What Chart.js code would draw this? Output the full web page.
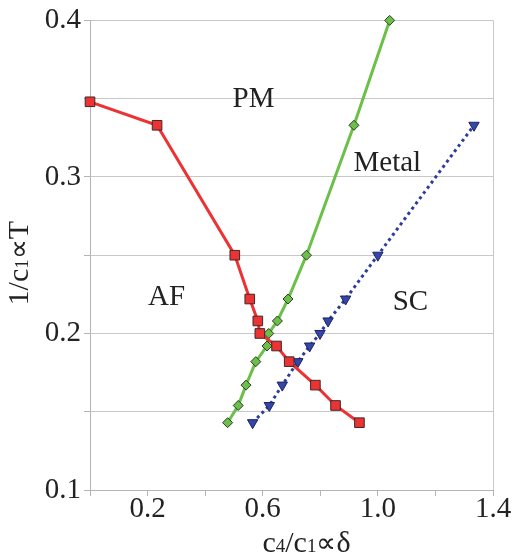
<!DOCTYPE html>
<html>
<head>
<meta charset="utf-8">
<script src="https://cdn.jsdelivr.net/npm/chart.js@4.4.1/dist/chart.umd.min.js"></script>
<style>
  html, body { margin: 0; padding: 0; background: #fff; }
  #wrap { width: 516px; height: 558px; position: relative; }
</style>
</head>
<body>
<div id="wrap"><canvas id="myChart"></canvas></div>
<script>
// AF boundary (red squares)
var afX = [0, 0.233, 0.503, 0.555, 0.583, 0.59, 0.648, 0.692, 0.783, 0.853, 0.936];
var afY = [0.348, 0.333, 0.25, 0.222, 0.208, 0.2, 0.192, 0.182, 0.167, 0.154, 0.143];
// metal line (green diamonds)
var metalX = [0.478, 0.515, 0.542, 0.576, 0.615, 0.621, 0.651, 0.688, 0.752, 0.917, 1.041];
var metalY = [0.143, 0.154, 0.167, 0.182, 0.192, 0.2, 0.208, 0.222, 0.25, 0.333, 0.4];
// SC line (blue triangles, dotted)
var scX = [0.565, 0.623, 0.668, 0.722, 0.763, 0.799, 0.827, 0.888, 1.0, 1.334];
var scY = [0.143, 0.154, 0.167, 0.182, 0.192, 0.2, 0.208, 0.222, 0.25, 0.333];

// region names and where they sit (data coords)
var regionNames = ["PM", "Metal", "AF", "SC"];
var regionX = [0.568, 1.033, 0.266, 1.113];
var regionY = [0.3496, 0.3087, 0.2232, 0.22];

var xTickLabels = ["0.2", "0.6", "1.0", "1.4"];

function pts(xs, ys) {
    return xs.map(function (x, i) { return { x: x, y: ys[i] }; });
}

var serif = "'Liberation Serif', 'Times New Roman', serif";
var textColor = "#222";

// draws text made of pieces [text, size]
function drawPieces(ctx, pieces, cx, baseline) {
    var total = 0;
    pieces.forEach(function (p) {
        ctx.font = p[1] + "px " + serif;
        total += ctx.measureText(p[0]).width;
    });
    var x = cx - total / 2;
    pieces.forEach(function (p) {
        ctx.font = p[1] + "px " + serif;
        ctx.fillText(p[0], x, baseline);
        x += ctx.measureText(p[0]).width;
    });
}

var labelsPlugin = {
    id: "labels",
    afterDatasetsDraw: function (chart) {
        var ctx = chart.ctx;
        var xs = chart.scales.x, ys = chart.scales.y;
        var area = chart.chartArea;
        ctx.save();
        ctx.fillStyle = textColor;
        ctx.textAlign = "center";
        ctx.textBaseline = "middle";
        ctx.font = "29px " + serif;
        regionNames.forEach(function (name, i) {
            ctx.fillText(name, xs.getPixelForValue(regionX[i]), ys.getPixelForValue(regionY[i]));
        });

        // axis titles
        ctx.textAlign = "left";
        ctx.textBaseline = "alphabetic";
        drawPieces(ctx, [["c", 30], ["4", 19], ["/", 30], ["c", 30], ["1", 19], ["\u221D", 28], ["\u03B4", 30]],
            (area.left + area.right) / 2 + 15, 552);

        ctx.translate(28, (area.top + area.bottom) / 2 + 8);
        ctx.rotate(-Math.PI / 2);
        drawPieces(ctx, [["1/c", 30], ["1", 19], ["\u221D", 28], ["T", 30]], 0, 0);
        ctx.restore();
    }
};

var ctx = document.getElementById("myChart");

new Chart(ctx, {
    type: "scatter",
    data: {
        datasets: [
            {
                label: "AF",
                data: pts(afX, afY),
                showLine: true,
                borderColor: "#ec3232",
                borderWidth: 3,
                backgroundColor: "#ec3232",
                pointStyle: "rect",
                pointRadius: 6.8,
                pointBorderColor: "#3a2a2a",
                pointBorderWidth: 1,
                clip: false,
                order: 1
            },
            {
                label: "Metal",
                data: pts(metalX, metalY),
                showLine: true,
                borderColor: "#6cc04a",
                borderWidth: 3,
                backgroundColor: "#6cc04a",
                pointStyle: "rectRot",
                pointRadius: 5,
                pointBorderColor: "#2a3a22",
                pointBorderWidth: 1,
                clip: false,
                order: 2
            },
            {
                label: "SC",
                data: pts(scX, scY),
                showLine: true,
                borderColor: "#2e3b9e",
                borderWidth: 3,
                borderDash: [3, 3.5],
                backgroundColor: "#3447a8",
                pointStyle: "triangle",
                rotation: 180,
                pointRadius: 6,
                pointBorderColor: "#1e2260",
                pointBorderWidth: 1,
                clip: false,
                order: 3
            }
        ]
    },
    options: {
        responsive: true,
        maintainAspectRatio: false,
        animation: false,
        layout: { padding: { left: 0, right: 23, top: 20, bottom: 0 } },
        plugins: {
            legend: { display: false },
            tooltip: { enabled: false }
        },
        scales: {
            x: {
                type: "linear",
                min: 0,
                max: 1.4,
                afterFit: function (s) { s.height = 68; },
                ticks: {
                    stepSize: 0.2,
                    padding: -4,
                    color: textColor,
                    font: { family: serif, size: 29 },
                    maxRotation: 0,
                    autoSkip: false,
                    callback: function (v) {
                        var s = v.toFixed(1);
                        return xTickLabels.indexOf(s) >= 0 ? s : "";
                    }
                },
                grid: {
                    drawOnChartArea: true,
                    color: function (c) {
                        return c.tick && Math.abs(c.tick.value - 1.4) < 1e-6 ? "#c8c8c8" : "rgba(0,0,0,0)";
                    },
                    tickColor: "#b4b4b4",
                    tickLength: 6
                },
                border: { color: "#b4b4b4", width: 1 }
            },
            y: {
                type: "linear",
                min: 0.1,
                max: 0.4,
                afterFit: function (s) { s.width = 90; },
                ticks: {
                    stepSize: 0.05,
                    padding: 3,
                    color: textColor,
                    font: { family: serif, size: 29 },
                    autoSkip: false,
                    callback: function (v) {
                        var k = Math.round(v * 100);
                        return k % 10 === 0 ? (k / 100).toFixed(1) : "";
                    }
                },
                grid: {
                    color: "#c8c8c8",
                    tickColor: "#b4b4b4",
                    tickLength: 6
                },
                border: { color: "#b4b4b4", width: 1 }
            }
        }
    },
    plugins: [labelsPlugin]
});
</script>
</body>
</html>
